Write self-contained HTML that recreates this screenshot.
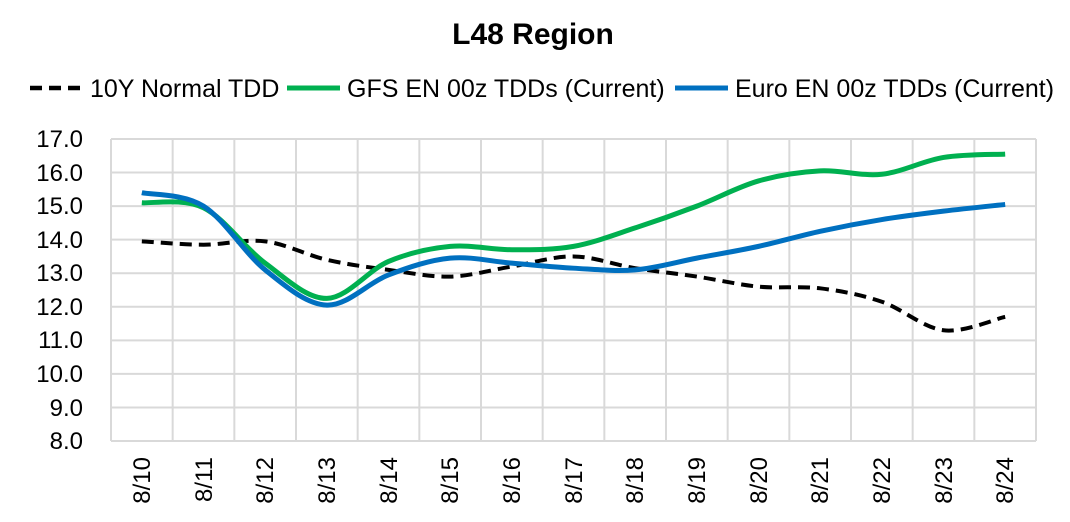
<!DOCTYPE html>
<html><head><style>body{margin:0;background:#fff}svg{display:block;font-family:"Liberation Sans",Arial,sans-serif}</style></head>
<body>
<svg id="s" width="1070" height="522" xmlns="http://www.w3.org/2000/svg">
<rect width="1070" height="522" fill="#fff"/>
<text x="533" y="44" font-size="30" font-weight="bold" text-anchor="middle">L48 Region</text>
<g font-size="25" fill="#000">
<line x1="30" y1="88" x2="82" y2="88" stroke="#000" stroke-width="4.5" stroke-dasharray="12,7"/>
<text x="90" y="97">10Y Normal TDD</text>
<line x1="287" y1="88" x2="340" y2="88" stroke="#00b050" stroke-width="5"/>
<text x="347" y="97">GFS EN 00z TDDs (Current)</text>
<line x1="675" y1="88" x2="728" y2="88" stroke="#0070c0" stroke-width="5"/>
<text x="735" y="97">Euro EN 00z TDDs (Current)</text>
</g>
<g id="grid" stroke="#d9d9d9" stroke-width="2"></g>
<g font-size="24" text-anchor="end">
<text x="83" y="147">17.0</text><text x="83" y="181">16.0</text><text x="83" y="214">15.0</text><text x="83" y="248">14.0</text><text x="83" y="281">13.0</text><text x="83" y="315">12.0</text><text x="83" y="348">11.0</text><text x="83" y="382">10.0</text><text x="83" y="416">9.0</text><text x="83" y="449">8.0</text>
</g>
<g font-size="24" text-anchor="end">
<text transform="translate(150,457) rotate(-90)">8/10</text>
<text transform="translate(212,457) rotate(-90)">8/11</text>
<text transform="translate(273,457) rotate(-90)">8/12</text>
<text transform="translate(335,457) rotate(-90)">8/13</text>
<text transform="translate(397,457) rotate(-90)">8/14</text>
<text transform="translate(458,457) rotate(-90)">8/15</text>
<text transform="translate(520,457) rotate(-90)">8/16</text>
<text transform="translate(582,457) rotate(-90)">8/17</text>
<text transform="translate(643,457) rotate(-90)">8/18</text>
<text transform="translate(705,457) rotate(-90)">8/19</text>
<text transform="translate(767,457) rotate(-90)">8/20</text>
<text transform="translate(828,457) rotate(-90)">8/21</text>
<text transform="translate(890,457) rotate(-90)">8/22</text>
<text transform="translate(952,457) rotate(-90)">8/23</text>
<text transform="translate(1013,457) rotate(-90)">8/24</text>
</g>
<g id="series" fill="none"></g>
</svg>
<script>
var L=111,R=1036,T=139,B=441,w=(R-L)/15;
function y(v){return T+(17-v)*(B-T)/9}
var g=document.getElementById('grid'),h='';
for(var i=0;i<=9;i++)h+='<line x1="'+L+'" x2="'+R+'" y1="'+(T+i*(B-T)/9)+'" y2="'+(T+i*(B-T)/9)+'"/>';
for(var i=0;i<=15;i++)h+='<line y1="'+T+'" y2="'+B+'" x1="'+(L+i*w)+'" x2="'+(L+i*w)+'"/>';
g.innerHTML=h;
function path(d){var p=d.map(function(v,i){return[L+w/2+i*w,y(v)]});var s='M'+p[0];
for(var i=0;i<p.length-1;i++){var a=p[i-1]||p[i],b=p[i],c=p[i+1],e=p[i+2]||c;var t=6;
s+='C'+(b[0]+(c[0]-a[0])/t)+','+(b[1]+(c[1]-a[1])/t)+' '+(c[0]-(e[0]-b[0])/t)+','+(c[1]-(e[1]-b[1])/t)+' '+c;}return s}
var N=[13.95,13.85,13.95,13.4,13.1,12.9,13.2,13.5,13.15,12.9,12.6,12.55,12.15,11.3,11.7];
var G=[15.1,14.95,13.3,12.25,13.35,13.8,13.7,13.8,14.35,15.0,15.75,16.05,15.95,16.45,16.55];
var E=[15.4,15.0,13.1,12.05,12.95,13.45,13.3,13.15,13.1,13.45,13.8,14.25,14.6,14.85,15.05];
document.getElementById('series').innerHTML=
'<path d="'+path(N)+'" stroke="#000" stroke-width="4" stroke-dasharray="12,7"/>'+
'<path d="'+path(G)+'" stroke="#00b050" stroke-width="5"/>'+
'<path d="'+path(E)+'" stroke="#0070c0" stroke-width="5"/>';
</script>
</body></html>
